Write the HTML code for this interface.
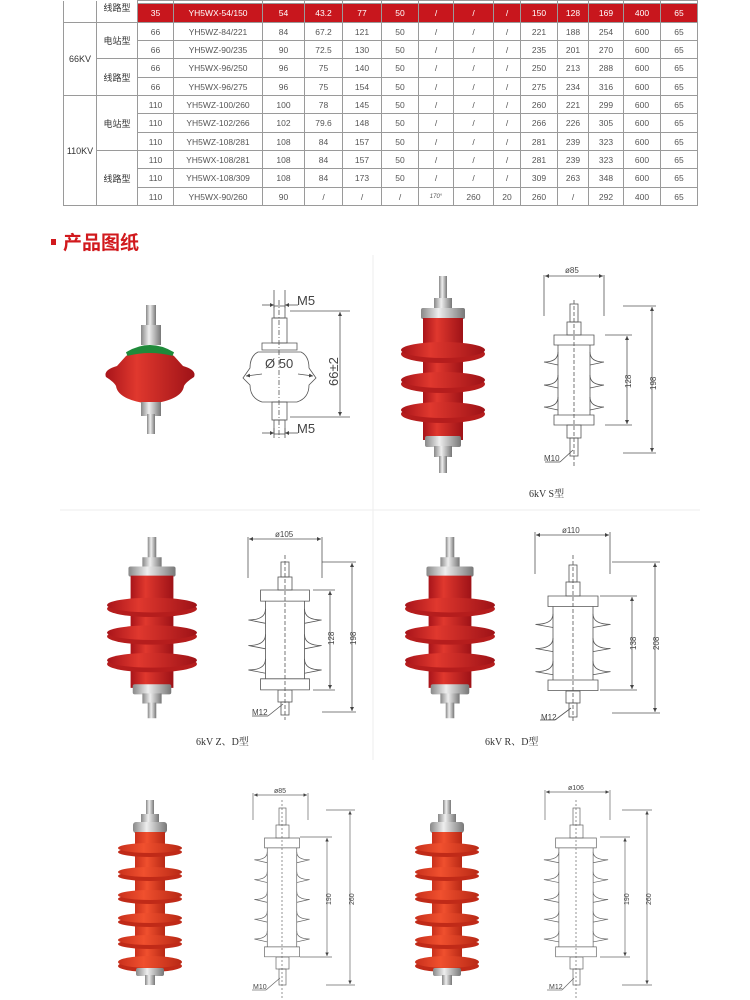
<!DOCTYPE html>
<html><head><meta charset="utf-8"><style>
*{margin:0;padding:0;box-sizing:border-box}
body{width:750px;height:1000px;background:#fff;position:relative;overflow:hidden;font-family:"Liberation Sans","Noto Sans CJK SC",sans-serif}
table{position:absolute;left:63px;top:0;border-collapse:collapse;table-layout:fixed;width:634px}
td{border:1px solid #9a9a9a;font-size:8.5px;color:#555;text-align:center;padding:0;white-space:nowrap;overflow:hidden}
tr.red td.r{background:#c8161d;color:#fff}
td.t{font-size:9px;color:#333}
.hd{position:absolute;left:51px;top:228px;font-size:19px;font-weight:bold;color:#d1191d;font-family:"Liberation Sans","Noto Sans CJK SC",sans-serif}
.hd i{display:inline-block;width:5px;height:6px;background:#d1191d;margin-right:7px;vertical-align:middle;position:relative;top:-2px}
svg{position:absolute;left:0;top:0}
</style></head><body>
<table>
<colgroup><col style="width:33px"><col style="width:41px"><col style="width:36px"><col style="width:89px"><col style="width:42px"><col style="width:38px"><col style="width:39px"><col style="width:37px"><col style="width:35px"><col style="width:40px"><col style="width:27px"><col style="width:37px"><col style="width:31px"><col style="width:35px"><col style="width:37px"><col style="width:37px"></colgroup>
<tr style="height:3px"><td rowspan="2" style="border-top:none"></td><td rowspan="2" class="t" style="border-top:none;vertical-align:top">线路型</td><td></td><td></td><td></td><td></td><td></td><td></td><td></td><td></td><td></td><td></td><td></td><td></td><td></td><td></td></tr>
<tr class="red" style="height:19px"><td class="r">35</td><td class="r">YH5WX-54/150</td><td class="r">54</td><td class="r">43.2</td><td class="r">77</td><td class="r">50</td><td class="r">/</td><td class="r">/</td><td class="r">/</td><td class="r">150</td><td class="r">128</td><td class="r">169</td><td class="r">400</td><td class="r">65</td></tr>
<tr style="height:18px"><td rowspan="4" class="t">66KV</td><td rowspan="2" class="t">电站型</td><td>66</td><td>YH5WZ-84/221</td><td>84</td><td>67.2</td><td>121</td><td>50</td><td>/</td><td>/</td><td>/</td><td>221</td><td>188</td><td>254</td><td>600</td><td>65</td></tr>
<tr style="height:18px"><td>66</td><td>YH5WZ-90/235</td><td>90</td><td>72.5</td><td>130</td><td>50</td><td>/</td><td>/</td><td>/</td><td>235</td><td>201</td><td>270</td><td>600</td><td>65</td></tr>
<tr style="height:19px"><td rowspan="2" class="t">线路型</td><td>66</td><td>YH5WX-96/250</td><td>96</td><td>75</td><td>140</td><td>50</td><td>/</td><td>/</td><td>/</td><td>250</td><td>213</td><td>288</td><td>600</td><td>65</td></tr>
<tr style="height:18px"><td>66</td><td>YH5WX-96/275</td><td>96</td><td>75</td><td>154</td><td>50</td><td>/</td><td>/</td><td>/</td><td>275</td><td>234</td><td>316</td><td>600</td><td>65</td></tr>
<tr style="height:18px"><td rowspan="6" class="t">110KV</td><td rowspan="3" class="t">电站型</td><td>110</td><td>YH5WZ-100/260</td><td>100</td><td>78</td><td>145</td><td>50</td><td>/</td><td>/</td><td>/</td><td>260</td><td>221</td><td>299</td><td>600</td><td>65</td></tr>
<tr style="height:19px"><td>110</td><td>YH5WZ-102/266</td><td>102</td><td>79.6</td><td>148</td><td>50</td><td>/</td><td>/</td><td>/</td><td>266</td><td>226</td><td>305</td><td>600</td><td>65</td></tr>
<tr style="height:18px"><td>110</td><td>YH5WZ-108/281</td><td>108</td><td>84</td><td>157</td><td>50</td><td>/</td><td>/</td><td>/</td><td>281</td><td>239</td><td>323</td><td>600</td><td>65</td></tr>
<tr style="height:18px"><td rowspan="3" class="t">线路型</td><td>110</td><td>YH5WX-108/281</td><td>108</td><td>84</td><td>157</td><td>50</td><td>/</td><td>/</td><td>/</td><td>281</td><td>239</td><td>323</td><td>600</td><td>65</td></tr>
<tr style="height:19px"><td>110</td><td>YH5WX-108/309</td><td>108</td><td>84</td><td>173</td><td>50</td><td>/</td><td>/</td><td>/</td><td>309</td><td>263</td><td>348</td><td>600</td><td>65</td></tr>
<tr style="height:18px"><td>110</td><td>YH5WX-90/260</td><td>90</td><td>/</td><td>/</td><td>/</td><td style="font-size:6px;font-style:italic">170°</td><td>260</td><td>20</td><td>260</td><td>/</td><td>292</td><td>400</td><td>65</td></tr>
</table>
<div class="hd"><i></i>产品图纸</div>

<svg width="750" height="1000" viewBox="0 0 750 1000">
<defs>
<marker id="a" viewBox="0 0 6 6" refX="6" refY="3" markerWidth="5" markerHeight="5" orient="auto-start-reverse"><path d="M0,0L6,3L0,6z" fill="#444"/></marker>
<linearGradient id="rg" x1="0" x2="1"><stop offset="0" stop-color="#a8141a"/><stop offset=".35" stop-color="#e0382e"/><stop offset="1" stop-color="#9e1217"/></linearGradient>
<linearGradient id="mg" x1="0" x2="1"><stop offset="0" stop-color="#888"/><stop offset=".4" stop-color="#eee"/><stop offset="1" stop-color="#777"/></linearGradient>
<linearGradient id="og" x1="0" x2="1"><stop offset="0" stop-color="#c9301c"/><stop offset=".4" stop-color="#f0502e"/><stop offset="1" stop-color="#b82815"/></linearGradient>
<g id="r3">
<rect x="-4" y="0" width="8" height="26" fill="url(#mg)"/>
<rect x="-9" y="22" width="18" height="12" fill="url(#mg)"/>
<rect x="-22" y="32" width="44" height="11" rx="2" fill="url(#mg)"/>
<rect x="-20" y="42" width="40" height="122" fill="url(#rg)"/>
<ellipse cx="0" cy="78" rx="42" ry="9" fill="#b51d1d"/><ellipse cx="0" cy="74" rx="42" ry="8" fill="url(#rg)"/>
<ellipse cx="0" cy="108" rx="42" ry="9" fill="#b51d1d"/><ellipse cx="0" cy="104" rx="42" ry="8" fill="url(#rg)"/>
<ellipse cx="0" cy="138" rx="42" ry="9" fill="#b51d1d"/><ellipse cx="0" cy="134" rx="42" ry="8" fill="url(#rg)"/>
<rect x="-18" y="160" width="36" height="11" rx="2" fill="url(#mg)"/>
<rect x="-9" y="170" width="18" height="11" fill="url(#mg)"/>
<rect x="-4" y="180" width="8" height="17" fill="url(#mg)"/>
</g>
<g id="r5">
<rect x="-4" y="0" width="8" height="20" fill="url(#mg)"/>
<rect x="-9" y="14" width="18" height="10" fill="url(#mg)"/>
<rect x="-17" y="22" width="34" height="11" rx="3" fill="url(#mg)"/>
<rect x="-15" y="32" width="30" height="125" fill="url(#og)"/>
<ellipse cx="0" cy="76" rx="32" ry="5" fill="#c02a18"/><ellipse cx="0" cy="72" rx="32" ry="5" fill="url(#og)"/>
<ellipse cx="0" cy="99" rx="32" ry="5" fill="#c02a18"/><ellipse cx="0" cy="95" rx="32" ry="5" fill="url(#og)"/>
<ellipse cx="0" cy="122" rx="32" ry="5" fill="#c02a18"/><ellipse cx="0" cy="118" rx="32" ry="5" fill="url(#og)"/>
<ellipse cx="0" cy="144" rx="32" ry="5" fill="#c02a18"/><ellipse cx="0" cy="140" rx="32" ry="5" fill="url(#og)"/>
<ellipse cx="0" cy="166" rx="32" ry="6" fill="#c02a18"/><ellipse cx="0" cy="162" rx="32" ry="6" fill="url(#og)"/>
<ellipse cx="0" cy="52" rx="32" ry="5" fill="#c02a18"/><ellipse cx="0" cy="48" rx="32" ry="5" fill="url(#og)"/>
<rect x="-14" y="168" width="28" height="8" rx="2" fill="url(#mg)"/>
<rect x="-5" y="175" width="10" height="10" fill="url(#mg)"/>
</g>
<g id="d3" fill="none" stroke="#555" stroke-width="0.8">
<rect x="-20" y="0" width="40" height="10" vector-effect="non-scaling-stroke"/>
<rect x="-20" y="80" width="40" height="10" vector-effect="non-scaling-stroke"/>
<path d="M-16,10V80M16,10V80" vector-effect="non-scaling-stroke"/>
<path d="M-16,17Q-16,27 -30,27L-16,30M16,17Q16,27 30,27L16,30M-16,40Q-16,50 -30,50L-16,53M16,40Q16,50 30,50L16,53M-16,62Q-16,72 -30,72L-16,75M16,62Q16,72 30,72L16,75" vector-effect="non-scaling-stroke"/>
</g>
<g id="d5" fill="none" stroke="#666" stroke-width="0.7">
<rect x="-19" y="0" width="38" height="10" vector-effect="non-scaling-stroke"/>
<rect x="-19" y="110" width="38" height="10" vector-effect="non-scaling-stroke"/>
<path d="M-16,10V110M16,10V110" vector-effect="non-scaling-stroke"/>
<path d="M-16,14Q-16,22 -30,22L-16,25M16,14Q16,22 30,22L16,25M-16,34Q-16,42 -30,42L-16,45M16,34Q16,42 30,42L16,45M-16,54Q-16,62 -30,62L-16,65M16,54Q16,62 30,62L16,65M-16,74Q-16,82 -30,82L-16,85M16,74Q16,82 30,82L16,85M-16,94Q-16,102 -30,102L-16,105M16,94Q16,102 30,102L16,105" vector-effect="non-scaling-stroke"/>
</g>
</defs>

<g stroke="#eee" stroke-width="1"><line x1="373" y1="255" x2="373" y2="760"/><line x1="60" y1="510" x2="700" y2="510"/></g>

<!-- small round arrester photo -->
<rect x="146" y="305" width="10" height="25" fill="url(#mg)"/>
<rect x="141" y="325" width="20" height="20" fill="url(#mg)"/>
<path d="M126,356Q150,340 174,356L183,366Q197,370 194,377Q186,382 184,386Q182,400 150,404Q118,400 116,386Q114,382 106,377Q103,370 117,366Z" fill="url(#rg)"/>
<path d="M127,354Q150,340 173,354Q150,348 127,354Z" fill="#1f8a3a" stroke="#1f8a3a" stroke-width="4"/>
<rect x="141" y="402" width="20" height="14" fill="url(#mg)"/>
<rect x="147" y="414" width="8" height="20" fill="url(#mg)"/>

<!-- drawing 1 -->
<g fill="none" stroke="#555" stroke-width="0.8">
<path d="M262,343h35v7h-35z"/>
<path d="M258,352Q250,356 250,368L243,378L250,385Q250,398 262,402H297Q309,398 309,385L316,378L309,368Q309,356 301,352Z"/>
<rect x="272" y="318" width="15" height="25"/><rect x="274" y="306" width="11" height="12"/>
<rect x="272" y="402" width="15" height="18"/><rect x="274" y="420" width="11" height="14"/>
<line x1="279" y1="300" x2="279" y2="438" stroke-dasharray="5,2,1,2"/>
<line x1="274" y1="290" x2="274" y2="308"/><line x1="285" y1="290" x2="285" y2="308"/>
<line x1="274" y1="428" x2="274" y2="438"/><line x1="285" y1="428" x2="285" y2="438"/>
<line x1="262" y1="305" x2="274" y2="305" marker-end="url(#a)"/><line x1="298" y1="305" x2="285" y2="305" marker-end="url(#a)"/>
<line x1="262" y1="433" x2="274" y2="433" marker-end="url(#a)"/><line x1="298" y1="433" x2="285" y2="433" marker-end="url(#a)"/>
<line x1="290" y1="311" x2="350" y2="311"/><line x1="290" y1="417" x2="350" y2="417"/>
<line x1="340" y1="312" x2="340" y2="416" marker-start="url(#a)" marker-end="url(#a)"/>
<line x1="262" y1="374" x2="246" y2="376" marker-end="url(#a)"/><line x1="298" y1="374" x2="313" y2="376" marker-end="url(#a)"/>
</g>
<g font-family="Liberation Sans,sans-serif" fill="#444">
<text x="297" y="305" font-size="13">M5</text>
<text x="297" y="433" font-size="13">M5</text>
<text x="265" y="368" font-size="13">Ø 50</text>
<text transform="translate(338,386) rotate(-90)" font-size="13">66±2</text>
</g>

<!-- 6kV S -->
<use href="#r3" transform="translate(443,276)"/>
<g stroke="#555" stroke-width="0.8" fill="none">
<line x1="574" y1="300" x2="574" y2="467" stroke-dasharray="4,2"/>
<rect x="570" y="304" width="8" height="18"/><rect x="567" y="322" width="14" height="13"/>
<rect x="567" y="425" width="14" height="13"/><rect x="570" y="438" width="8" height="18"/>
<line x1="544" y1="275" x2="544" y2="316"/><line x1="604" y1="275" x2="604" y2="316"/>
<line x1="545" y1="276" x2="603" y2="276" marker-start="url(#a)" marker-end="url(#a)"/>
<line x1="605" y1="335" x2="632" y2="335"/><line x1="605" y1="425" x2="632" y2="425"/>
<line x1="627" y1="336" x2="627" y2="424" marker-start="url(#a)" marker-end="url(#a)"/>
<line x1="623" y1="306" x2="656" y2="306"/><line x1="623" y1="453" x2="656" y2="453"/>
<line x1="652" y1="307" x2="652" y2="452" marker-start="url(#a)" marker-end="url(#a)"/>
<line x1="560" y1="462" x2="573" y2="450"/><line x1="545" y1="462" x2="560" y2="462"/>
</g>
<use href="#d3" transform="translate(574,335)"/>
<g font-family="Liberation Sans,sans-serif" fill="#444" font-size="8">
<text x="565" y="273">ø85</text>
<text transform="translate(631,388) rotate(-90)">128</text>
<text transform="translate(656,390) rotate(-90)">198</text>
<text x="544" y="461">M10</text>
</g>
<text x="529" y="497" font-family="Liberation Serif,Noto Serif CJK SC,serif" font-size="10" fill="#333">6kV  S型</text>

<!-- 6kV Z,D -->
<use href="#r3" transform="translate(152,537) scale(1.07,0.92)"/>
<use href="#d3" transform="translate(285,590) scale(1.22,1.11)"/>
<g stroke="#555" stroke-width="0.8" fill="none">
<line x1="285" y1="555" x2="285" y2="720" stroke-dasharray="4,2"/>
<rect x="281" y="562" width="8" height="15"/><rect x="278" y="577" width="14" height="13"/>
<rect x="278" y="690" width="14" height="12"/><rect x="281" y="702" width="8" height="13"/>
<line x1="248" y1="537" x2="248" y2="578"/><line x1="322" y1="537" x2="322" y2="578"/>
<line x1="249" y1="539" x2="321" y2="539" marker-start="url(#a)" marker-end="url(#a)"/>
<line x1="313" y1="590" x2="335" y2="590"/><line x1="313" y1="690" x2="335" y2="690"/>
<line x1="330" y1="591" x2="330" y2="689" marker-start="url(#a)" marker-end="url(#a)"/>
<line x1="322" y1="562" x2="356" y2="562"/><line x1="322" y1="712" x2="356" y2="712"/>
<line x1="352" y1="563" x2="352" y2="711" marker-start="url(#a)" marker-end="url(#a)"/>
<line x1="268" y1="716" x2="283" y2="704"/><line x1="252" y1="716" x2="268" y2="716"/>
</g>
<g font-family="Liberation Sans,sans-serif" fill="#444" font-size="8">
<text x="275" y="537">ø105</text>
<text transform="translate(334,645) rotate(-90)">128</text>
<text transform="translate(356,645) rotate(-90)">198</text>
<text x="252" y="715">M12</text>
</g>
<text x="196" y="745" font-family="Liberation Serif,Noto Serif CJK SC,serif" font-size="10" fill="#333">6kV  Z、D型</text>

<!-- 6kV R,D -->
<use href="#r3" transform="translate(450,537) scale(1.07,0.92)"/>
<use href="#d3" transform="translate(573,596) scale(1.25,1.05)"/>
<g stroke="#555" stroke-width="0.8" fill="none">
<line x1="573" y1="555" x2="573" y2="722" stroke-dasharray="4,2"/>
<rect x="569" y="565" width="8" height="17"/><rect x="566" y="582" width="14" height="14"/>
<rect x="566" y="691" width="14" height="12"/><rect x="569" y="703" width="8" height="14"/>
<line x1="535" y1="532" x2="535" y2="574"/><line x1="610" y1="532" x2="610" y2="574"/>
<line x1="536" y1="535" x2="609" y2="535" marker-start="url(#a)" marker-end="url(#a)"/>
<line x1="600" y1="596" x2="637" y2="596"/><line x1="600" y1="690" x2="637" y2="690"/>
<line x1="632" y1="597" x2="632" y2="689" marker-start="url(#a)" marker-end="url(#a)"/>
<line x1="612" y1="562" x2="660" y2="562"/><line x1="612" y1="713" x2="660" y2="713"/>
<line x1="655" y1="563" x2="655" y2="712" marker-start="url(#a)" marker-end="url(#a)"/>
<line x1="555" y1="720" x2="571" y2="708"/><line x1="540" y1="720" x2="555" y2="720"/>
</g>
<g font-family="Liberation Sans,sans-serif" fill="#444" font-size="8">
<text x="562" y="533">ø110</text>
<text transform="translate(636,650) rotate(-90)">138</text>
<text transform="translate(659,650) rotate(-90)">208</text>
<text x="541" y="720">M12</text>
</g>
<text x="485" y="745" font-family="Liberation Serif,Noto Serif CJK SC,serif" font-size="10" fill="#333">6kV  R、D型</text>

<!-- row3 left -->
<use href="#r5" transform="translate(150,800)"/>
<use href="#d5" transform="translate(282,838) scale(0.92,0.99)"/>
<g stroke="#666" stroke-width="0.7" fill="none">
<line x1="282" y1="800" x2="282" y2="998" stroke-dasharray="2,2"/>
<rect x="279" y="808" width="7" height="17"/><rect x="276" y="825" width="13" height="13"/>
<rect x="276" y="957" width="13" height="12"/><rect x="279" y="969" width="7" height="16"/>
<line x1="253" y1="793" x2="253" y2="820"/><line x1="308" y1="793" x2="308" y2="820"/>
<line x1="254" y1="795" x2="307" y2="795" marker-start="url(#a)" marker-end="url(#a)"/>
<line x1="300" y1="837" x2="332" y2="837"/><line x1="300" y1="957" x2="332" y2="957"/>
<line x1="327" y1="838" x2="327" y2="956" marker-start="url(#a)" marker-end="url(#a)"/>
<line x1="326" y1="810" x2="355" y2="810"/><line x1="326" y1="985" x2="355" y2="985"/>
<line x1="350" y1="811" x2="350" y2="984" marker-start="url(#a)" marker-end="url(#a)"/>
<line x1="266" y1="990" x2="280" y2="978"/><line x1="252" y1="990" x2="266" y2="990"/>
</g>
<g font-family="Liberation Sans,sans-serif" fill="#444" font-size="7">
<text x="274" y="793">ø85</text>
<text transform="translate(331,905) rotate(-90)">190</text>
<text transform="translate(354,905) rotate(-90)">260</text>
<text x="253" y="989">M10</text>
</g>

<!-- row3 right -->
<use href="#r5" transform="translate(447,800)"/>
<use href="#d5" transform="translate(576,838) scale(1.07,0.99)"/>
<g stroke="#666" stroke-width="0.7" fill="none">
<line x1="576" y1="800" x2="576" y2="998" stroke-dasharray="2,2"/>
<rect x="573" y="808" width="7" height="17"/><rect x="570" y="825" width="13" height="13"/>
<rect x="570" y="957" width="13" height="12"/><rect x="573" y="969" width="7" height="16"/>
<line x1="545" y1="790" x2="545" y2="820"/><line x1="610" y1="790" x2="610" y2="820"/>
<line x1="546" y1="792" x2="609" y2="792" marker-start="url(#a)" marker-end="url(#a)"/>
<line x1="600" y1="837" x2="630" y2="837"/><line x1="600" y1="957" x2="630" y2="957"/>
<line x1="625" y1="838" x2="625" y2="956" marker-start="url(#a)" marker-end="url(#a)"/>
<line x1="622" y1="810" x2="652" y2="810"/><line x1="622" y1="985" x2="652" y2="985"/>
<line x1="647" y1="811" x2="647" y2="984" marker-start="url(#a)" marker-end="url(#a)"/>
<line x1="562" y1="990" x2="574" y2="978"/><line x1="547" y1="990" x2="562" y2="990"/>
</g>
<g font-family="Liberation Sans,sans-serif" fill="#444" font-size="7">
<text x="568" y="790">ø106</text>
<text transform="translate(629,905) rotate(-90)">190</text>
<text transform="translate(651,905) rotate(-90)">260</text>
<text x="549" y="989">M12</text>
</g>
</svg>
</body></html>
